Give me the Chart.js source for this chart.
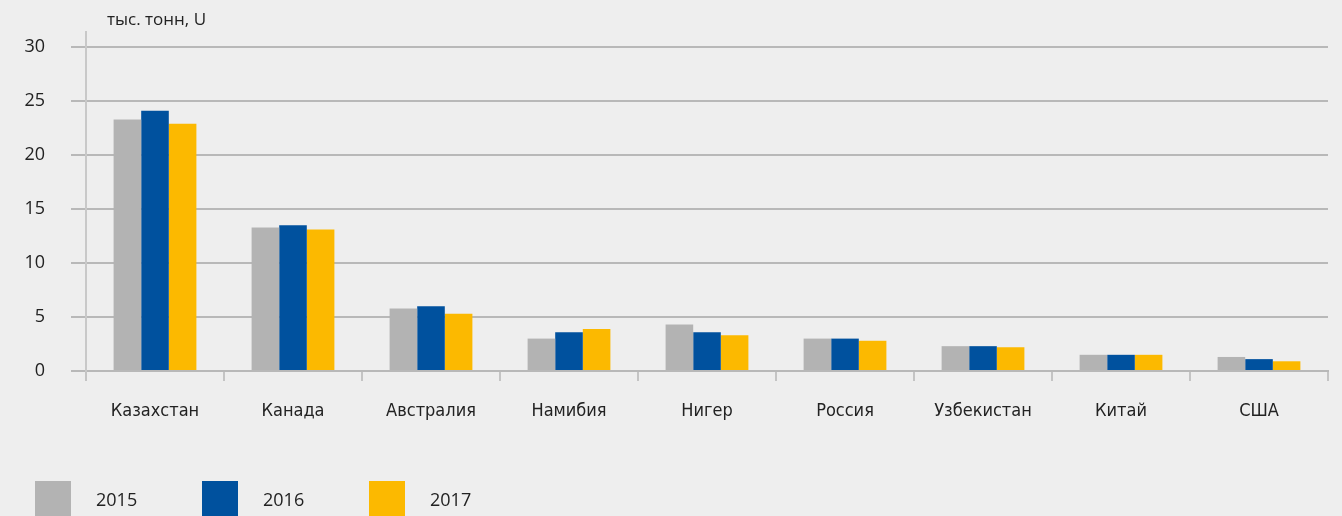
<!DOCTYPE html>
<html>
<head>
<meta charset="utf-8">
<script src="https://cdn.jsdelivr.net/npm/chart.js@4/dist/chart.umd.min.js"></script>
<style>
  html, body { margin: 0; padding: 0; background: #eeeeee; overflow: hidden; }
  #wrap { position: relative; width: 1342px; height: 516px; }
  #legend { position: absolute; left: 35px; top: 481px; display: flex; font-family: "Open Sans", sans-serif; font-size: 18px; color: #222; }
  .item { display: flex; align-items: flex-start; width: 167px; }
  .box { width: 36px; height: 40px; margin-right: 25px; }
  .item span { margin-top: 6px; }
</style>
</head>
<body>
<div id="wrap">
  <canvas id="chart" width="1342" height="516"></canvas>
  <div id="legend"></div>
</div>
<script>
// Uranium production by country, thousand tonnes U
const countries = ['Казахстан', 'Канада', 'Австралия', 'Намибия', 'Нигер', 'Россия', 'Узбекистан', 'Китай', 'США'];
const years = ['2015', '2016', '2017'];
const values2015 = [23.3, 13.3, 5.8, 3.0, 4.3, 3.0, 2.3, 1.5, 1.3];
const values2016 = [24.1, 13.5, 6.0, 3.6, 3.6, 3.0, 2.3, 1.5, 1.1];
const values2017 = [22.9, 13.1, 5.3, 3.9, 3.3, 2.8, 2.2, 1.5, 0.9];
const yTicks = [0, 5, 10, 15, 20, 25, 30];
const colors = ['#b3b3b3', '#00519e', '#fcb900'];
const unitLabel = 'тыс. тонн, U';

// Draws the unit caption above the y axis
const unitCaption = {
    id: 'unitCaption',
    afterDraw(chart) {
        const ctx = chart.ctx;
        ctx.save();
        ctx.font = '17px "Open Sans", sans-serif';
        ctx.fillStyle = '#222';
        ctx.textBaseline = 'middle';
        ctx.fillText(unitLabel, chart.chartArea.left + 21, 20);
        ctx.restore();
    }
};

const series = [values2015, values2016, values2017];

new Chart(document.getElementById('chart'), {
    type: 'bar',
    data: {
        labels: countries,
        datasets: years.map((y, i) => ({
            label: y,
            data: series[i],
            backgroundColor: colors[i],
            categoryPercentage: 0.6,
            barPercentage: 1.0
        }))
    },
    options: {
        responsive: false,
        animation: false,
        layout: { padding: { left: 0, right: 14, top: 32, bottom: 95 } },
        plugins: { legend: { display: false }, tooltip: { enabled: false } },
        scales: {
            x: {
                grid: {
                    offset: true,
                    drawOnChartArea: false,
                    tickLength: 10,
                    lineWidth: 2,
                    color: ctx => ctx.index === countries.length ? '#00519e' : '#c4c4c4'
                },
                border: { display: true, color: '#b8b8b8', width: 2 },
                ticks: {
                    padding: 20,
                    color: '#222',
                    font: { family: '"Liberation Sans Narrow", "DejaVu Sans Condensed", sans-serif', size: 18 }
                },
                afterFit: scale => { scale.height = 50; }
            },
            y: {
                min: 0,
                max: 31.4,
                afterBuildTicks: scale => { scale.ticks = yTicks.map(v => ({ value: v })); },
                grid: { color: '#b8b8b8', lineWidth: 2, tickLength: 15 },
                border: { display: true, color: '#c8c8c8', width: 2 },
                ticks: {
                    padding: 26,
                    color: '#222',
                    font: { family: '"Open Sans", sans-serif', size: 18 }
                },
                afterFit: scale => {
                    scale.width = 86;
                    scale.paddingTop = 0;
                    scale.paddingBottom = 0;
                }
            }
        }
    },
    plugins: [unitCaption]
});

// Legend under the chart
const legend = document.getElementById('legend');
years.forEach((y, i) => {
    const item = document.createElement('div');
    item.className = 'item';
    item.innerHTML = '<div class="box" style="background:' + colors[i] + '"></div><span>' + y + '</span>';
    legend.appendChild(item);
});
</script>
</body>
</html>
